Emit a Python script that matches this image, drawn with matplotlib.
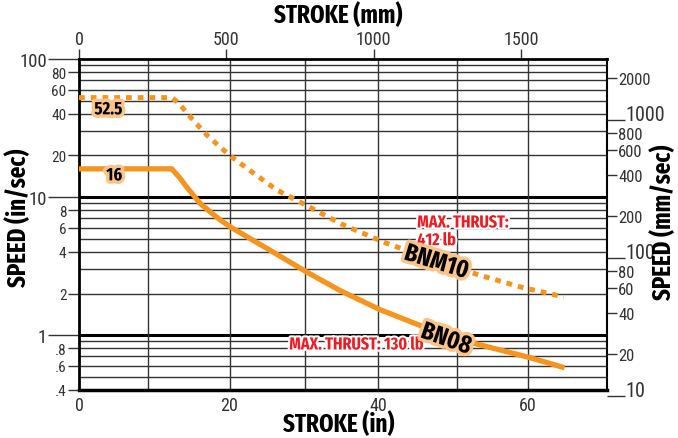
import matplotlib
matplotlib.use('Agg')
import matplotlib.pyplot as plt
import matplotlib.patheffects as pe
from matplotlib.ticker import FixedLocator, FixedFormatter

# ---------------- data ----------------
stroke_bnm10 = [0, 12.4, 13.3, 15.2, 17.3, 20.2, 23.1, 26.5, 29.1, 35.1, 40.9, 47.0, 53.4, 59.0, 64.8]
speed_bnm10 = [52.5, 52.5, 48.1, 36.3, 27.4, 19.9, 15.2, 11.2, 9.47, 6.36, 4.67, 3.55, 2.73, 2.23, 1.89]

stroke_bn08 = [0, 12.4, 13.4, 14.4, 16.2, 18.6, 20.2, 25.1, 30.3, 34.9, 40.2, 46.0, 52.5, 60.1, 64.9]
speed_bn08 = [16, 16, 13.9, 11.8, 8.97, 7.0, 6.08, 4.25, 2.89, 2.1, 1.53, 1.15, 0.88, 0.69, 0.58]

x_ticks_in = [0, 20, 40, 60]
x_ticks_mm = [0, 500, 1000, 1500]
y_major_in = [1, 10, 100]
y_major_in_labels = ['1', '10', '100']
y_minor_in = [0.4, 0.6, 0.8, 2, 4, 6, 8, 20, 40, 60, 80]
y_minor_in_labels = ['.4', '.6', '.8', '2', '4', '6', '8', '20', '40', '60', '80']
y_major_mm = [10, 100, 1000]
y_minor_mm = [20, 40, 60, 80, 200, 400, 600, 800, 2000]

FONT = ['Roboto Condensed', 'DejaVu Sans']
BOLDFONT = ['Fira Sans Extra Condensed', 'Roboto Condensed', 'DejaVu Sans']
plt.rcParams['font.family'] = FONT

ORANGE = '#F7941D'
LIGHT = '#FBC48B'
RED = '#ED1C24'
GRID = '#333333'
TXT = '#333333'

fig = plt.figure(figsize=(6.78, 4.39), dpi=100)
L, R, T, B = 79, 607, 60, 391
W, H = 678, 439
ax = fig.add_axes([L / W, 1 - B / H, (R - L) / W, (B - T) / H])
ax.set_yscale('log')
ax.set_ylim(0.4, 100)
ax.set_xlim(0, 70.56)

# grid
for dec in [0.1, 1, 10]:
    for m in range(1, 10):
        v = round(m * dec, 3)
        if 0.4 < v < 100:
            if v in (1, 10):
                ax.axhline(v, color='black', lw=2.2, zorder=1)
            else:
                ax.axhline(v, color=GRID, lw=1.0, zorder=1)
for xv in [9.2, 20.2, 30.2, 40.0, 50.5, 60.0]:
    ax.axvline(xv, color=GRID, lw=1.0, zorder=1)

# curves
ax.plot(stroke_bn08, speed_bn08, color=ORANGE, lw=3.8, solid_capstyle='butt',
        solid_joinstyle='round', zorder=3)
ax.plot(stroke_bnm10, speed_bnm10, color=ORANGE, lw=3.6, dashes=(1.15, 1.2),
        dash_capstyle='butt', zorder=3)

# y axis (in/sec)
ax.yaxis.set_major_locator(FixedLocator(y_major_in))
ax.yaxis.set_major_formatter(FixedFormatter(y_major_in_labels))
ax.yaxis.set_minor_locator(FixedLocator(y_minor_in))
ax.yaxis.set_minor_formatter(FixedFormatter(y_minor_in_labels))
ax.tick_params(axis='y', which='major', length=22, width=1, color=TXT,
               labelsize=13.5, labelcolor=TXT, pad=1)
ax.tick_params(axis='y', which='minor', length=8, width=1, color=TXT,
               labelsize=11, labelcolor=TXT, pad=1)

# x axis (in)
ax.set_xticks(x_ticks_in)
ax.set_xticklabels([str(v) for v in x_ticks_in])
ax.tick_params(axis='x', which='both', length=0, labelsize=13, labelcolor=TXT, pad=4)

# top axis (mm)
sec = ax.secondary_xaxis('top', functions=(lambda x: x * 25.4, lambda x: x / 25.4))
sec.set_xticks(x_ticks_mm)
sec.set_xticklabels([str(v) for v in x_ticks_mm])
sec.tick_params(axis='x', length=7, width=1, color=TXT, labelsize=13, labelcolor=TXT, pad=1)
for s in sec.spines.values():
    s.set_visible(False)

# right axis (mm/sec) - its own log scale, 10 sits slightly below the frame
RB = 396.7
ax2 = fig.add_axes([L / W, 1 - RB / H, (R - L) / W, (RB - T) / H])
ax2.patch.set_visible(False)
ax2.set_yscale('log')
ax2.set_ylim(10, 10 * 10 ** ((RB - T) / 137.9))
ax2.xaxis.set_visible(False)
ax2.yaxis.tick_right()
ax2.yaxis.set_major_locator(FixedLocator(y_major_mm))
ax2.yaxis.set_major_formatter(FixedFormatter([str(v) for v in y_major_mm]))
ax2.yaxis.set_minor_locator(FixedLocator(y_minor_mm))
ax2.yaxis.set_minor_formatter(FixedFormatter([str(v) for v in y_minor_mm]))
ax2.tick_params(axis='y', which='major', length=13, width=1, color=TXT,
                labelsize=14.5, labelcolor=TXT, pad=0)
ax2.tick_params(axis='y', which='minor', length=7, width=1, color=TXT,
                labelsize=12, labelcolor=TXT, pad=1)
for t in ax2.yaxis.get_major_ticks():
    t.label2.set_verticalalignment('baseline')
for s in ax2.spines.values():
    s.set_visible(False)

ax.spines['left'].set_linewidth(2)
ax.spines['top'].set_linewidth(2)
ax.spines['bottom'].set_linewidth(2.5)
ax.spines['right'].set_linewidth(1.5)

# titles
tkw = dict(fontweight='bold', fontsize=18, color='black', ha='center', va='center',
           family=BOLDFONT)
fig.text(338 / W, 1 - 15 / H, 'STROKE (mm)', **tkw)
fig.text(339 / W, 1 - 424 / H, 'STROKE (in)', **tkw)
fig.text(18 / W, 1 - 218 / H, 'SPEED (in/sec)', rotation=90, **tkw)
fig.text(663 / W, 1 - 222 / H, 'SPEED (mm/sec)', rotation=90, **tkw)

# annotations
glow = [pe.withStroke(linewidth=5, foreground=LIGHT)]
white = [pe.withStroke(linewidth=3, foreground='white')]
akw = dict(fontweight='bold', family=BOLDFONT, ha='center', va='center',
           path_effects=glow, zorder=6)
ax.text(3.94, 43.3, '52.5', fontsize=13, **akw)
ax.text(4.7, 14.4, '16', fontsize=13, **akw)
ax.text(47.8, 3.39, 'BNM10', fontsize=18, rotation=-17, rotation_mode='anchor', **akw)
ax.text(49.1, 0.94, 'BN08', fontsize=18, rotation=-19, rotation_mode='anchor', **akw)
rkw = dict(fontweight='bold', family=BOLDFONT, color=RED, fontsize=12.5,
           path_effects=white, zorder=5, ha='left')
ax.text(45.2, 7.6, 'MAX. THRUST:\n412 lb', va='top', linespacing=1.0, **rkw)
ax.text(28.1, 0.857, 'MAX. THRUST: 130 lb', va='center', **rkw)

fig.savefig('out.png', dpi=100)
